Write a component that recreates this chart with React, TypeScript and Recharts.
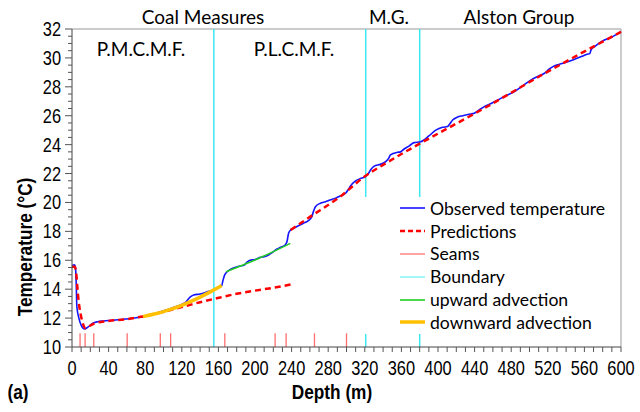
import React from 'react';
import { LineChart, Line, XAxis, YAxis, ReferenceLine, Legend } from 'recharts';

// observed temperature log
const obsDepth = [0, 2.7, 3.8, 4.6, 5.3, 7.5, 10.1, 13.7, 17.3, 22.8, 28, 34, 45, 59, 70, 78, 88, 96, 105, 114, 120, 125, 129, 133, 140, 147, 154, 160, 163.6, 165, 167, 172.7, 178, 183.6, 188, 191, 194.5, 200, 205.6, 210, 214.8, 218, 224, 228, 233, 235, 236.7, 239, 242, 248, 253, 258, 262, 264, 266, 271.5, 277, 282, 288, 293, 297, 299, 302, 304.4, 309.9, 315, 320.8, 324, 326.3, 330, 337, 342.8, 346, 348, 355.6, 359, 363, 368.3, 373.8, 381, 390, 397.6, 405, 410.4, 413, 416, 421, 427, 434, 439.6, 445, 450.6, 458, 465.3, 474, 483.5, 492, 501.8, 509, 516.4, 521, 525.6, 532, 538.4, 548, 556.7, 563, 565.8, 567.6, 571.3, 578.6, 590, 600];
const obsTemp = [15.62, 15.68, 15.5, 14.4, 12.8, 12.0, 11.5, 11.25, 11.37, 11.65, 11.75, 11.8, 11.85, 11.94, 12.02, 12.1, 12.25, 12.42, 12.6, 12.8, 12.95, 13.15, 13.45, 13.6, 13.67, 13.8, 13.95, 14.15, 14.25, 14.6, 15.0, 15.35, 15.5, 15.6, 15.65, 15.85, 16.0, 16.05, 16.2, 16.25, 16.37, 16.5, 16.78, 16.9, 17.06, 17.3, 17.87, 18.1, 18.2, 18.4, 18.56, 18.72, 19.0, 19.4, 19.7, 19.95, 20.05, 20.17, 20.3, 20.45, 20.55, 20.64, 20.9, 21.14, 21.49, 21.65, 21.8, 22.0, 22.25, 22.5, 22.64, 22.82, 23.05, 23.29, 23.47, 23.5, 23.7, 23.9, 24.14, 24.2, 24.6, 25.0, 25.2, 25.25, 25.45, 25.7, 25.9, 26.0, 26.1, 26.17, 26.4, 26.63, 26.85, 27.09, 27.38, 27.67, 28.05, 28.48, 28.72, 28.94, 29.2, 29.4, 29.55, 29.67, 29.88, 30.09, 30.25, 30.3, 30.6, 30.78, 31.13, 31.45, 31.82];

// model predictions (conduction only, upper part / lower part)
const predUpperDepth = [0, 3, 4.6, 6.4, 8, 10, 12, 14.8, 18, 24.7, 40, 60, 80, 96, 110, 125, 140, 158, 180, 200, 220, 239];
const predUpperTemp = [15.55, 15.55, 15.1, 13.7, 12.8, 12.1, 11.6, 11.3, 11.4, 11.64, 11.8, 11.93, 12.15, 12.38, 12.6, 12.85, 13.1, 13.37, 13.68, 13.9, 14.1, 14.32];
const predLowerDepth = [239, 260, 293, 321, 340, 360, 381, 450, 520, 600];
const predLowerTemp = [18.1, 19.0, 20.4, 21.85, 22.6, 23.35, 24.1, 26.5, 29.05, 31.8];

// advection fits
const upDepth = [168.4, 180, 200, 220, 238.6];
const upTemp = [15.2, 15.5, 16.02, 16.6, 17.17];
const downDepth = [77.6, 90, 100, 110, 120, 130, 140, 150, 158, 163.6];
const downTemp = [12.1, 12.28, 12.45, 12.65, 12.88, 13.15, 13.45, 13.78, 14.05, 14.25];

const seams = [8.8, 14.3, 23.8, 60.3, 96.5, 107.8, 167, 222, 234, 265, 300];
const boundaries = [155, 321, 380];

const yTicks = Array.from({ length: 45 }, (_, i) => 10 + i * 0.5);
const xTicks = Array.from({ length: 61 }, (_, i) => i * 10);

const zip = (xs: number[], ys: number[]) => xs.map((d, i) => ({ depth: d, temp: ys[i] }));
const observed = zip(obsDepth, obsTemp);
const predUpper = zip(predUpperDepth, predUpperTemp);
const predLower = zip(predLowerDepth, predLowerTemp);
const upward = zip(upDepth, upTemp);
const downward = zip(downDepth, downTemp);

// no narrow font installed, so squeeze Liberation Sans horizontally
const tickFont = "'Liberation Sans', Arial, sans-serif";
const narrow = 0.82;
const textFont = "Lato, 'Open Sans', sans-serif";

const legendItems = [
  { name: 'Observed temperature', color: '#1414ff', width: 1.6, dash: undefined },
  { name: 'Predictions', color: '#ff0000', width: 2.4, dash: '5 3' },
  { name: 'Seams', color: '#ff8c8c', width: 1.6, dash: undefined },
  { name: 'Boundary', color: '#8cf5f5', width: 1.6, dash: undefined },
  { name: 'upward advection', color: '#22cc22', width: 1.6, dash: undefined },
  { name: 'downward advection', color: '#ffc000', width: 3.5, dash: undefined },
];

const YTick = (props: any) => {
  const { x, y, payload } = props;
  const v = payload.value;
  const major = Math.abs(v % 2) < 1e-6;
  return (
    <g>
      <line x1={x - (major ? 7 : 4)} x2={x} y1={y} y2={y} stroke="#555" />
      {major && (
        <text
          transform={`translate(${x - 11},${y + 7}) scale(${narrow},1)`}
          textAnchor="end"
          fontFamily={tickFont}
          fontSize={20}
          fill="#000"
        >
          {v}
        </text>
      )}
    </g>
  );
};

const XTick = (props: any) => {
  const { x, y, payload } = props;
  const v = payload.value;
  return (
    <g>
      <line x1={x} x2={x} y1={y} y2={y + 5} stroke="#555" />
      {v % 40 === 0 && (
        <text
          transform={`translate(${x},${y + 28}) scale(${narrow},1)`}
          textAnchor="middle"
          fontFamily={tickFont}
          fontSize={20}
          fill="#000"
        >
          {v}
        </text>
      )}
    </g>
  );
};

const renderLegend = () => (
  <div style={{ background: '#fff', width: 258, height: 137, boxSizing: 'border-box', paddingLeft: 45 }}>
    {legendItems.map((it) => (
      <div key={it.name} style={{ display: 'flex', alignItems: 'center', height: 22.8, fontFamily: textFont, fontSize: 17.6, color: '#000' }}>
        <svg width={26} height={10} style={{ marginRight: 4 }}>
          <line x1={0} x2={25} y1={5} y2={5} stroke={it.color} strokeWidth={it.width} strokeDasharray={it.dash} />
        </svg>
        <span>{it.name}</span>
      </div>
    ))}
  </div>
);

const label = (text: string, x: number, y: number, extra: React.CSSProperties = {}) => (
  <div
    style={{
      position: 'absolute',
      left: x,
      top: y,
      transform: 'translate(-50%, -50%)',
      whiteSpace: 'nowrap',
      lineHeight: 1,
      fontFamily: textFont,
      fontSize: 19,
      color: '#000',
      ...extra,
    }}
  >
    {text}
  </div>
);

const boldNarrow: React.CSSProperties = { fontFamily: tickFont, fontWeight: 'bold', fontSize: 21 };

export default function App() {
  return (
    <div style={{ position: 'absolute', left: 0, top: 0, width: 640, height: 412, background: '#fff' }}>
      <LineChart width={640} height={412} margin={{ top: 29, right: 19, bottom: 0, left: 0 }}>
        <XAxis
          dataKey="depth"
          type="number"
          domain={[0, 600]}
          ticks={xTicks}
          interval={0}
          tick={XTick}
          tickLine={false}
          tickSize={0}
          tickMargin={0}
          height={65}
          axisLine={{ stroke: '#444' }}
          allowDuplicatedCategory={false}
        />
        <YAxis
          type="number"
          domain={[10, 32]}
          ticks={yTicks}
          interval={0}
          tick={YTick}
          tickLine={false}
          tickSize={0}
          tickMargin={0}
          width={72}
          axisLine={{ stroke: '#444' }}
        />
        <ReferenceLine y={32} stroke="#999" />
        <ReferenceLine x={600} stroke="#999" />
        {boundaries.map((b) => (
          <ReferenceLine key={'b' + b} x={b} stroke="#3de8f2" strokeWidth={1.5} />
        ))}
        {seams.map((s) => (
          <ReferenceLine
            key={'s' + s}
            segment={[{ x: s, y: 10 }, { x: s, y: 10.95 }]}
            stroke="#ff6e6e"
            strokeWidth={1.3}
          />
        ))}
        <Line data={observed} dataKey="temp" type="monotone" stroke="#1414ff" strokeWidth={1.6} dot={false} isAnimationActive={false} />
        <Line data={predUpper} dataKey="temp" type="monotone" stroke="#ff0000" strokeWidth={2.5} strokeDasharray="6 4" dot={false} isAnimationActive={false} />
        <Line data={predLower} dataKey="temp" type="monotone" stroke="#ff0000" strokeWidth={2.5} strokeDasharray="6 4" dot={false} isAnimationActive={false} />
        <Line data={upward} dataKey="temp" type="monotone" stroke="#22cc22" strokeWidth={1.6} dot={false} isAnimationActive={false} />
        <Line data={downward} dataKey="temp" type="monotone" stroke="#ffc000" strokeWidth={3.5} dot={false} isAnimationActive={false} />
        <Legend
          layout="vertical"
          align="center"
          verticalAlign="middle"
          content={renderLegend}
          wrapperStyle={{ left: 355, top: 197, width: 258, height: 137 }}
        />
      </LineChart>
      {label('Coal Measures', 203, 16)}
      {label('M.G.', 389, 16)}
      {label('Alston Group', 519, 16)}
      {label('P.M.C.M.F.', 141, 48)}
      {label('P.L.C.M.F.', 294, 48)}
      {label('Temperature (°C)', 24, 247, { ...boldNarrow, transform: `translate(-50%, -50%) rotate(-90deg) scaleX(${narrow})` })}
      {label('Depth (m)', 332, 391, { ...boldNarrow, transform: `translate(-50%, -50%) scaleX(${narrow})` })}
      {label('(a)', 18, 391, { ...boldNarrow, transform: `translate(-50%, -50%) scaleX(${narrow})` })}
    </div>
  );
}
